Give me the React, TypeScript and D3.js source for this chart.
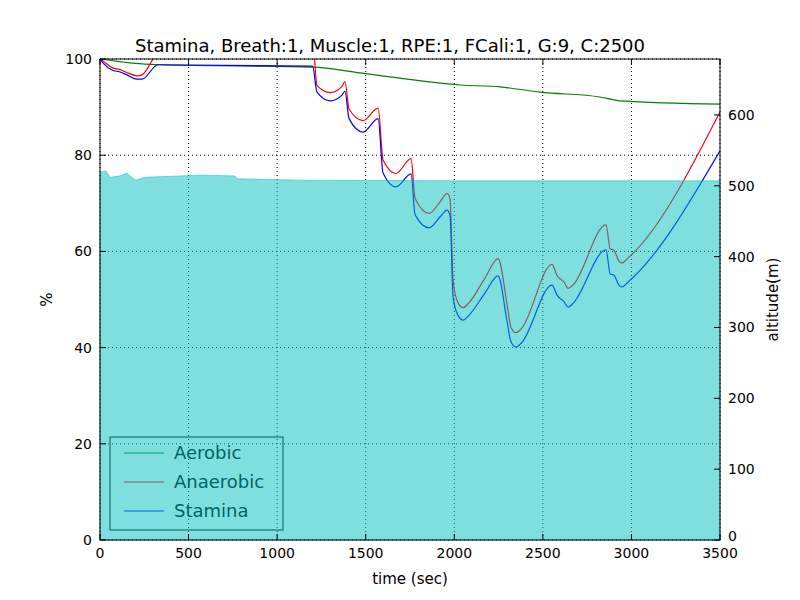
import * as d3 from 'd3';

const W = 800,
	H = 600;
const margin = { left: 100, right: 80, top: 59, bottom: 60 };

// stamina / anaerobic share time samples
const times = [0, 17, 68, 113, 152, 209, 237, 327, 1200, 1225, 1299, 1366, 1383, 1406, 1485, 1570, 1598, 1671, 1756, 1779, 1858, 1920, 1959, 1976, 1993, 2020, 2050, 2080, 2174, 2247, 2300, 2320, 2349, 2380, 2552, 2580, 2620, 2643, 2670, 2857, 2880, 2900, 2930, 2947, 2980, 3500];
const stamina = [100, 99.2, 97.7, 97.3, 96.7, 95.8, 95.8, 98.8, 98.5, 93.1, 91.3, 92.5, 93.3, 87.6, 84.8, 87.6, 76.3, 73.4, 76.1, 67.6, 64.9, 67.2, 68.6, 67.5, 50.5, 46.8, 45.7, 46.6, 51.4, 54.9, 45.0, 41.2, 40.1, 41.0, 53.0, 50.9, 49.5, 48.4, 49.2, 60.3, 55.3, 55.1, 53.0, 52.6, 53.6, 80.9];
const anaerobic = [100, 99.6, 98.2, 97.8, 97.2, 96.5, 96.7, 101, 104, 94.5, 93.0, 94.3, 95.3, 89.6, 87.2, 89.8, 79.0, 76.2, 79.3, 71.0, 67.9, 70.3, 72.0, 71.0, 54.0, 49.4, 48.3, 49.2, 54.5, 58.5, 48.5, 44.2, 43.1, 44.0, 57.3, 55.0, 53.6, 52.3, 53.0, 65.5, 60.5, 60.3, 58.0, 57.6, 58.6, 89.0];

const aeroTimes = [0, 169, 339, 1203, 1468, 2033, 2259, 2485, 2823, 2936, 3500];
const aerobic = [100, 99.2, 98.8, 98.3, 97.1, 94.6, 94.2, 93.1, 92.1, 91.3, 90.6];

const altTimes = [0, 34, 56, 113, 152, 169, 203, 254, 565, 762, 774, 1130, 2033, 3500];
const altitude = [519, 521, 512, 514, 518, 514, 508, 512, 515, 514, 510, 508, 507, 507];

const xTicks = [0, 500, 1000, 1500, 2000, 2500, 3000, 3500];
const yTicks = [0, 20, 40, 60, 80, 100];
const altTicks = [0, 100, 200, 300, 400, 500, 600];

const legendItems = [
	{ name: 'Aerobic', color: 'green' },
	{ name: 'Anaerobic', color: 'red' },
	{ name: 'Stamina', color: 'blue' },
];

export default function App() {
	const iw = W - margin.left - margin.right;
	const ih = H - margin.top - margin.bottom;
	const x = d3.scaleLinear().domain([0, 3500]).range([0, iw]);
	const y = d3.scaleLinear().domain([0, 100]).range([ih, 0]);
	const yAlt = d3.scaleLinear().domain([0, 679]).range([ih, 0]);

	const line = d3
		.line<[number, number]>()
		.x((d) => x(d[0]))
		.y((d) => y(d[1]))
		.curve(d3.curveMonotoneX);
	const area = d3
		.area<[number, number]>()
		.x((d) => x(d[0]))
		.y0(ih)
		.y1((d) => yAlt(d[1]));

	const font = 'DejaVu Sans, sans-serif';

	return (
		<svg width={W} height={H} style={{ position: 'absolute', left: 0, top: 0 }} fontFamily={font}>
			<rect width={W} height={H} fill="white" />
			<text x={W / 2 - 10} y={52} textAnchor="middle" fontSize={18}>
				Stamina, Breath:1, Muscle:1, RPE:1, FCali:1, G:9, C:2500
			</text>
			<defs>
				<clipPath id="plot">
					<rect width={iw} height={ih} />
				</clipPath>
			</defs>
			<g transform={`translate(${margin.left},${margin.top})`}>
				{/* grid */}
				{xTicks.map((t) => (
					<line key={'gx' + t} x1={x(t)} x2={x(t)} y1={0} y2={ih} stroke="black" strokeDasharray="1,3" />
				))}
				{yTicks.map((t) => (
					<line key={'gy' + t} x1={0} x2={iw} y1={y(t)} y2={y(t)} stroke="black" strokeDasharray="1,3" />
				))}
				<g clipPath="url(#plot)" fill="none" strokeWidth={1.2}>
					<path d={line(aeroTimes.map((t, i) => [t, aerobic[i]]))!} stroke="green" />
					<path d={line(times.map((t, i) => [t, anaerobic[i]]))!} stroke="red" />
					<path d={line(times.map((t, i) => [t, stamina[i]]))!} stroke="blue" />
				</g>
				{/* legend */}
				<g transform="translate(10,378)">
					<rect width={173} height={93} fill="none" stroke="black" />
					{legendItems.map((d, i) => (
						<g key={d.name} transform={`translate(0,${16 + i * 29})`}>
							<line x1={14} x2={54} y1={0} y2={0} stroke={d.color} strokeWidth={1.2} />
							<text x={64} y={0} dy="0.35em" fontSize={18}>
								{d.name}
							</text>
						</g>
					))}
				</g>
				{/* altitude overlay */}
				<path d={area(altTimes.map((t, i) => [t, altitude[i]]))!} fill="#00bfbf" fillOpacity={0.5} stroke="#00bfbf" strokeOpacity={0.5} />
				{/* frame */}
				<rect width={iw} height={ih} fill="none" stroke="black" />
				{/* bottom axis */}
				{xTicks.map((t) => (
					<g key={'x' + t} transform={`translate(${x(t)},${ih})`}>
						<line y1={0} y2={-6} stroke="black" />
						<line y1={-ih} y2={-ih + 6} stroke="black" />
						<text y={18} textAnchor="middle" fontSize={14}>
							{t}
						</text>
					</g>
				))}
				<text x={iw / 2} y={ih + 44} textAnchor="middle" fontSize={15}>
					time (sec)
				</text>
				{/* left axis */}
				{yTicks.map((t) => (
					<g key={'y' + t} transform={`translate(0,${y(t)})`}>
						<line x1={0} x2={6} stroke="black" />
						<text x={-8} dy="0.35em" textAnchor="end" fontSize={14}>
							{t}
						</text>
					</g>
				))}
				<text transform={`translate(-48,${ih / 2}) rotate(-90)`} textAnchor="middle" fontSize={15}>
					%
				</text>
				{/* right axis */}
				{altTicks.map((t) => (
					<g key={'a' + t} transform={`translate(${iw},${yAlt(t)})`}>
						<line x1={0} x2={-6} stroke="black" />
						<text x={8} dy={t === 0 ? '0.1em' : '0.35em'} fontSize={14}>
							{t}
						</text>
					</g>
				))}
				<text transform={`translate(${iw + 58},${ih / 2}) rotate(-90)`} textAnchor="middle" fontSize={15}>
					altitude(m)
				</text>
			</g>
		</svg>
	);
}
